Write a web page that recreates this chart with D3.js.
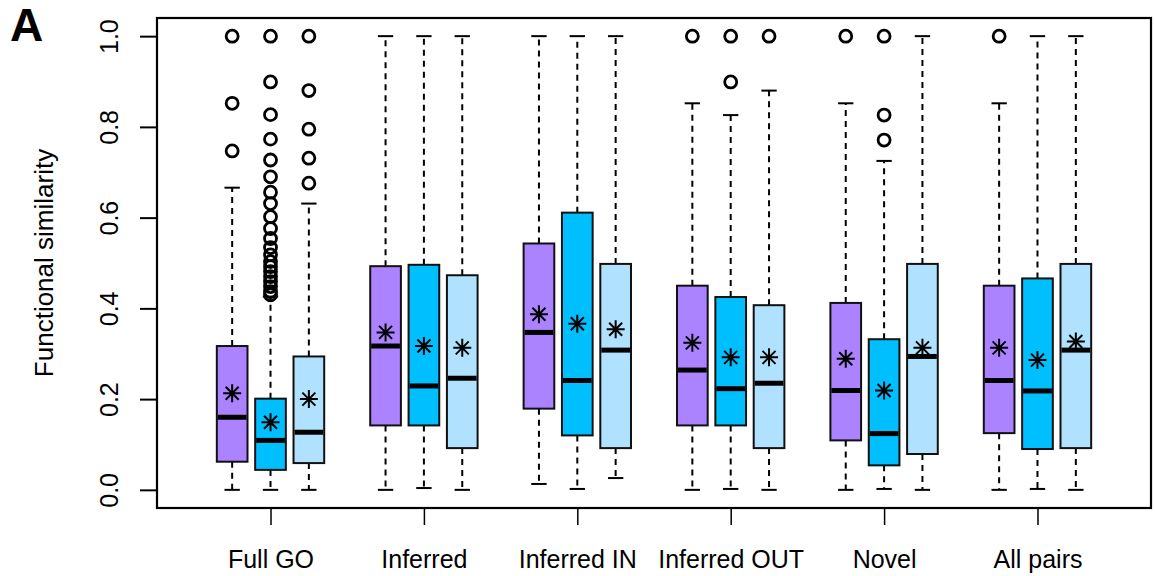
<!DOCTYPE html>
<html>
<head>
<meta charset="utf-8">
<script src="https://cdn.jsdelivr.net/npm/d3@7"></script>
<style>
  html, body { margin: 0; padding: 0; background: #fff; }
  svg { display: block; font-family: "Liberation Sans", Arial, Helvetica, sans-serif; }
</style>
</head>
<body>
<svg id="chart" width="1155" height="576"></svg>
<script>
// Categories along the x axis
const groups = ["Full GO", "Inferred", "Inferred IN", "Inferred OUT", "Novel", "All pairs"];
const yTicks = [0, 0.2, 0.4, 0.6, 0.8, 1.0];
const seriesColors = ["#AB82FF", "#00BFFF", "#B0E2FF"];

// Series 1 (purple) five-number summaries, means and outliers
const s1Low    = [0, 0, 0.013, 0, 0, 0];
const s1Q1     = [0.062, 0.142, 0.179, 0.142, 0.109, 0.125];
const s1Median = [0.160, 0.317, 0.347, 0.264, 0.219, 0.241];
const s1Q3     = [0.317, 0.493, 0.543, 0.450, 0.412, 0.450];
const s1High   = [0.666, 1.0, 1.0, 0.852, 0.852, 0.852];
const s1Mean   = [0.213, 0.347, 0.387, 0.324, 0.289, 0.313];
const s1Out    = [[1.0, 0.852, 0.747], [], [], [1.0], [1.0], [1.0]];

// Series 2 (deep sky blue)
const s2Low    = [0, 0.004, 0.002, 0.002, 0.002, 0.002];
const s2Q1     = [0.044, 0.142, 0.120, 0.142, 0.054, 0.090];
const s2Median = [0.109, 0.229, 0.241, 0.223, 0.124, 0.218];
const s2Q3     = [0.201, 0.496, 0.611, 0.425, 0.332, 0.466];
const s2High   = [0.426, 1.0, 1.0, 0.826, 0.725, 1.0];
const s2Mean   = [0.149, 0.317, 0.366, 0.292, 0.219, 0.286];
const s2Out    = [
  [1.0, 0.899, 0.827, 0.773, 0.727, 0.690, 0.656, 0.631, 0.602, 0.576, 0.554,
   0.534, 0.518, 0.503, 0.492, 0.481, 0.470, 0.459, 0.448, 0.437, 0.430],
  [], [], [1.0, 0.899], [1.0, 0.826, 0.771], []
];

// Series 3 (light sky blue)
const s3Low    = [0, 0, 0.026, 0, 0, 0];
const s3Q1     = [0.059, 0.092, 0.092, 0.092, 0.079, 0.092];
const s3Median = [0.127, 0.246, 0.308, 0.235, 0.294, 0.308];
const s3Q3     = [0.294, 0.473, 0.498, 0.407, 0.498, 0.498];
const s3High   = [0.631, 1.0, 1.0, 0.880, 1.0, 1.0];
const s3Mean   = [0.200, 0.313, 0.354, 0.292, 0.313, 0.327];
const s3Out    = [[1.0, 0.880, 0.795, 0.731, 0.676], [], [], [1.0], [], []];

const series = [
  { low: s1Low, q1: s1Q1, med: s1Median, q3: s1Q3, high: s1High, mean: s1Mean, out: s1Out },
  { low: s2Low, q1: s2Q1, med: s2Median, q3: s2Q3, high: s2High, mean: s2Mean, out: s2Out },
  { low: s3Low, q1: s3Q1, med: s3Median, q3: s3Q3, high: s3High, mean: s3Mean, out: s3Out }
];

// Flatten into one record per box; boxes sit at positions 0,1,2, 4,5,6, ...
const boxes = [];
groups.forEach((g, gi) => {
  series.forEach((s, si) => {
    boxes.push({
      pos: gi * 4 + si, color: seriesColors[si],
      low: s.low[gi], q1: s.q1[gi], med: s.med[gi], q3: s.q3[gi],
      high: s.high[gi], mean: s.mean[gi], out: s.out[gi]
    });
  });
});

const plot = { left: 157, right: 1151, top: 18, bottom: 508 };
const x = d3.scaleLinear().domain([-1.96, 23.96]).range([plot.left, plot.right]);
const y = d3.scaleLinear().domain([-0.04, 1.04]).range([plot.bottom, plot.top]);
const unit = x(1) - x(0);
const boxW = unit * 0.8;
const capW = boxW * 0.5;

const svg = d3.select("#chart");

// Whiskers (dashed) and caps
const wg = svg.append("g");
boxes.forEach(b => {
  const cx = x(b.pos);
  wg.append("line").attr("x1", cx).attr("x2", cx).attr("y1", y(b.q3)).attr("y2", y(b.high))
    .attr("stroke", "#000").attr("stroke-width", 2).attr("stroke-dasharray", "6,5");
  wg.append("line").attr("x1", cx).attr("x2", cx).attr("y1", y(b.q1)).attr("y2", y(b.low))
    .attr("stroke", "#000").attr("stroke-width", 2).attr("stroke-dasharray", "6,5");
  [b.high, b.low].forEach(v => {
    wg.append("line").attr("x1", cx - capW / 2).attr("x2", cx + capW / 2)
      .attr("y1", y(v)).attr("y2", y(v)).attr("stroke", "#000").attr("stroke-width", 2);
  });
});

// Boxes
svg.append("g").selectAll("rect").data(boxes).join("rect")
  .attr("x", d => x(d.pos) - boxW / 2)
  .attr("width", boxW)
  .attr("y", d => y(d.q3))
  .attr("height", d => y(d.q1) - y(d.q3))
  .attr("fill", d => d.color)
  .attr("stroke", "#111")
  .attr("stroke-width", 2);

// Medians
svg.append("g").selectAll("line").data(boxes).join("line")
  .attr("x1", d => x(d.pos) - boxW / 2 + 1)
  .attr("x2", d => x(d.pos) + boxW / 2 - 1)
  .attr("y1", d => y(d.med)).attr("y2", d => y(d.med))
  .attr("stroke", "#000").attr("stroke-width", 5);

// Outliers
const outPts = boxes.flatMap(b => b.out.map(v => ({ pos: b.pos, v })));
svg.append("g").selectAll("circle").data(outPts).join("circle")
  .attr("cx", d => x(d.pos)).attr("cy", d => y(d.v)).attr("r", 6)
  .attr("fill", "none").attr("stroke", "#000").attr("stroke-width", 2.8);

// Means drawn as asterisks
const ag = svg.append("g");
boxes.forEach(b => {
  const cx = x(b.pos), cy = y(b.mean), a = 9, d = 6.5;
  const p = `M${cx - a},${cy}H${cx + a}M${cx},${cy - a}V${cy + a}` +
            `M${cx - d},${cy - d}L${cx + d},${cy + d}M${cx - d},${cy + d}L${cx + d},${cy - d}`;
  ag.append("path").attr("d", p).attr("stroke", "#000").attr("stroke-width", 2).attr("fill", "none");
});

// Frame
svg.append("rect")
  .attr("x", plot.left).attr("y", plot.top)
  .attr("width", plot.right - plot.left).attr("height", plot.bottom - plot.top)
  .attr("fill", "none").attr("stroke", "#000").attr("stroke-width", 2.2);

// Y axis
const yAxis = svg.append("g").attr("transform", `translate(${plot.left},0)`)
  .call(d3.axisLeft(y).tickValues(yTicks).tickSize(17).tickFormat(d3.format(".1f")));
yAxis.select(".domain").remove();
yAxis.selectAll(".tick line").attr("stroke", "#000").attr("stroke-width", 2);
yAxis.selectAll(".tick text")
  .attr("x", null).attr("dy", null)
  .attr("transform", "translate(-39,0) rotate(-90)")
  .attr("text-anchor", "middle")
  .attr("fill", "#000").style("font-size", "25px").style("font-family", "inherit");

// X axis with group labels
const groupCenters = groups.map((g, i) => i * 4 + 1);
const xAxis = svg.append("g").attr("transform", `translate(0,${plot.bottom})`)
  .call(d3.axisBottom(x).tickValues(groupCenters).tickSize(17).tickFormat((d, i) => groups[i]));
xAxis.select(".domain").remove();
xAxis.selectAll(".tick line").attr("stroke", "#000").attr("stroke-width", 1.5);
xAxis.selectAll(".tick text")
  .attr("y", 60).attr("dy", null)
  .attr("fill", "#000").style("font-size", "25px").style("font-family", "inherit");

// Y axis title
svg.append("text")
  .attr("transform", `translate(53,${(plot.top + plot.bottom) / 2}) rotate(-90)`)
  .attr("text-anchor", "middle")
  .style("font-size", "26px")
  .text("Functional similarity");

// Panel letter
svg.append("text")
  .attr("x", 10).attr("y", 41)
  .style("font-size", "46px").style("font-weight", "bold")
  .text("A");
</script>
</body>
</html>
